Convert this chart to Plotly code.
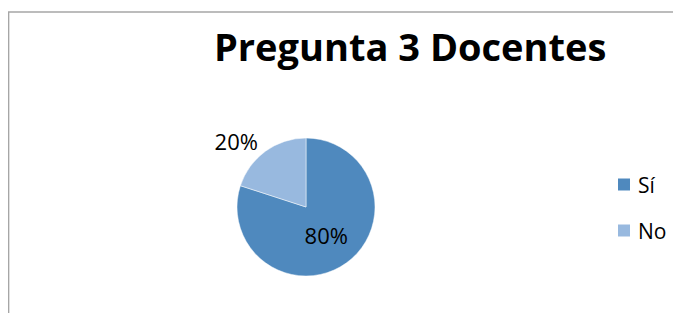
import plotly.graph_objects as go

labels = ["Sí", "No"]
values = [80, 20]
colors = ["#4F89BE", "#98B9DF"]
title_text = "Pregunta 3 Docentes"

# the page body has an 8px margin, so the figure starts at (8, 8)
OFF = 8
W, H = 681 - OFF, 313 - OFF

def px(x):
    return (x - OFF) / W

def py(y):
    return 1 - (y - OFF) / H

FONT = "Open Sans"

fig = go.Figure()
fig.add_trace(go.Pie(
    labels=labels,
    values=values,
    sort=False,
    direction="clockwise",
    rotation=0,
    marker=dict(colors=colors, line=dict(color="white", width=0.5)),
    texttemplate="%{percent:.0%}",
    textposition=["inside", "outside"],
    insidetextorientation="horizontal",
    textfont=dict(family=FONT, size=22, color="black"),
    domain=dict(x=[px(237), px(375)], y=[py(276), py(138)]),
    showlegend=False,
    hoverinfo="label+percent",
))

shapes = [
    dict(type="path", xref="paper", yref="paper",
         path=f"M {px(8.6)},{py(330)} L {px(8.6)},{py(12)} L {px(700)},{py(12)}",
         line=dict(color="#A6A6A6", width=1.5)),
]
annotations = []
leg_y = [184.5, 230.5]
for lab, col, yy in zip(labels, colors, leg_y):
    shapes.append(dict(type="rect", xref="paper", yref="paper",
                       x0=px(618), x1=px(630), y0=py(yy + 6), y1=py(yy - 6),
                       fillcolor=col, line=dict(width=0)))
    annotations.append(dict(text=lab, xref="paper", yref="paper",
                            x=px(636), y=py(yy), xanchor="left", yanchor="middle",
                            showarrow=False,
                            font=dict(family=FONT, size=21, color="black")))

annotations.append(dict(text=f"<b>{title_text}</b>", xref="paper", yref="paper",
                        x=px(409.5), y=py(46), xanchor="center", yanchor="middle",
                        showarrow=False,
                        font=dict(family=FONT, size=38, color="black")))

fig.update_layout(
    width=W, height=H,
    margin=dict(l=0, r=0, t=0, b=0),
    paper_bgcolor="white",
    plot_bgcolor="white",
    shapes=shapes,
    annotations=annotations,
)

fig.write_html("out.html")
